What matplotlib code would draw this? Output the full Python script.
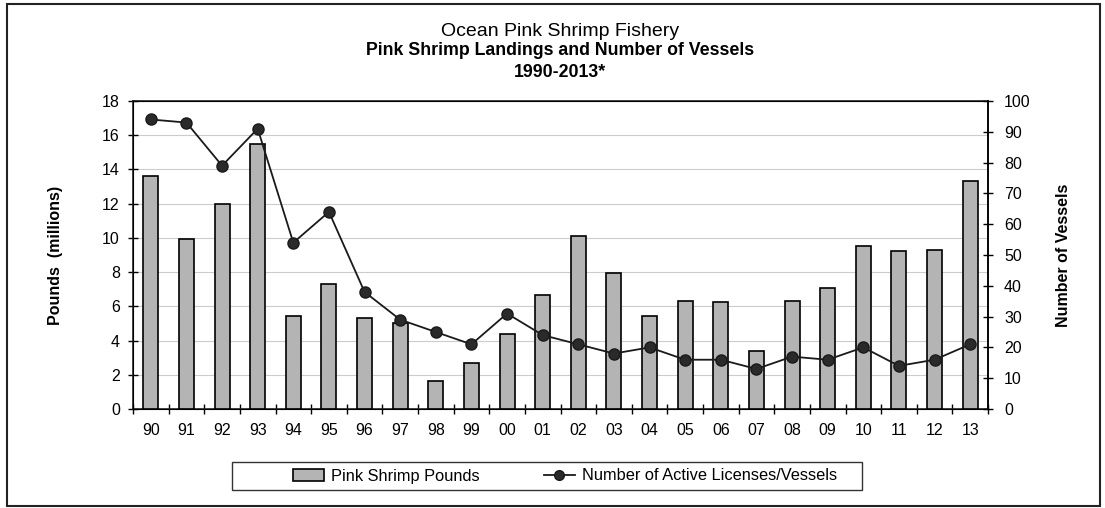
import matplotlib.pyplot as plt
from matplotlib.patches import Rectangle
from matplotlib.lines import Line2D
import numpy as np

plt.rcParams['font.family'] = ['Liberation Sans', 'DejaVu Sans']

years = ['90', '91', '92', '93', '94', '95', '96', '97', '98', '99', '00', '01',
         '02', '03', '04', '05', '06', '07', '08', '09', '10', '11', '12', '13']
pounds = [13.6, 9.95, 12.0, 15.5, 5.45, 7.3, 5.3, 5.0, 1.65, 2.7, 4.4, 6.65,
          10.1, 7.95, 5.45, 6.3, 6.25, 3.4, 6.3, 7.05, 9.5, 9.25, 9.3, 13.3]
vessels = [94, 93, 79, 91, 54, 64, 38, 29, 25, 21, 31, 24,
           21, 18, 20, 16, 16, 13, 17, 16, 20, 14, 16, 21]

fig = plt.figure(figsize=(11.05, 5.08), dpi=100)
ax1 = fig.add_axes([133/1105, 99/508, 855/1105, 308/508])
x = np.arange(len(years))

ax1.bar(x, pounds, width=0.42, color='#b4b4b4', edgecolor='black', linewidth=1.2, zorder=3)
ax1.set_xlim(-0.5, len(years) - 0.5)
ax1.set_ylim(0, 18)
ax1.set_yticks(np.arange(0, 19, 2))
ax1.yaxis.grid(True, color='#cccccc', linewidth=0.8, zorder=0)
ax1.set_axisbelow(True)

# category boundaries as ticks, labels at centers
ax1.set_xticks(np.arange(-0.5, len(years), 1))
ax1.set_xticklabels([])
ax1.set_xticks(x, minor=True)
ax1.set_xticklabels(years, minor=True)
ax1.tick_params(axis='x', which='minor', length=0, labelsize=11.5, pad=10)
ax1.tick_params(axis='x', which='major', length=7, direction='inout', width=1)
ax1.tick_params(axis='y', labelsize=11.5, length=7, direction='inout', width=1, pad=6)
ax1.set_ylabel('Pounds  (millions)', fontsize=11.5, fontweight='bold', labelpad=28)

for s in ['top', 'bottom', 'left', 'right']:
    ax1.spines[s].set_linewidth(1.2)
    ax1.spines[s].set_color('#222222')

ax2 = ax1.twinx()
ax2.plot(x, vessels, color='#1a1a1a', linewidth=1.3, marker='o', markersize=8,
         markerfacecolor='#2a2a2a', markeredgecolor='#1a1a1a', zorder=4)
ax2.set_ylim(0, 100)
ax2.set_yticks(np.arange(0, 101, 10))
ax2.tick_params(axis='y', labelsize=11.5, length=7, direction='inout', width=1, pad=8)
ax2.set_ylabel('Number of Vessels', fontsize=11.5, fontweight='bold', labelpad=18)
ax2.spines['right'].set_linewidth(1.2)

fig.text(0.507, 1 - 36/508, 'Ocean Pink Shrimp Fishery', ha='center', va='baseline', fontsize=14)
fig.text(0.507, 1 - 55/508, 'Pink Shrimp Landings and Number of Vessels', ha='center',
         va='baseline', fontsize=12.8, fontweight='bold')
fig.text(0.507, 1 - 77/508, '1990-2013*', ha='center', va='baseline', fontsize=12.8,
         fontweight='bold')

handles = [Rectangle((0, 0), 1, 1, facecolor='#b4b4b4', edgecolor='black', linewidth=1.2),
           Line2D([], [], color='#1a1a1a', linewidth=1.3, marker='o', markersize=7,
                  markerfacecolor='#2a2a2a')]
fig.legend(handles, ['Pink Shrimp Pounds', 'Number of Active Licenses/Vessels'],
           loc='center', bbox_to_anchor=(565/1105, 1 - 476/508), ncol=2,
           fontsize=11.8, frameon=False, columnspacing=3.9, handlelength=1.9,
           handletextpad=0.45, borderpad=0, borderaxespad=0)
fig.patches.append(Rectangle((232/1105, 1 - 490/508), 630/1105, 28/508,
                             transform=fig.transFigure, fill=False,
                             edgecolor='#333333', linewidth=1.0))

fig.patches.append(Rectangle((7/1105, 2/508), 1093/1105, 502/508, transform=fig.transFigure,
                             fill=False, edgecolor='#222222', linewidth=1.5))

fig.savefig('out.png', dpi=100)
